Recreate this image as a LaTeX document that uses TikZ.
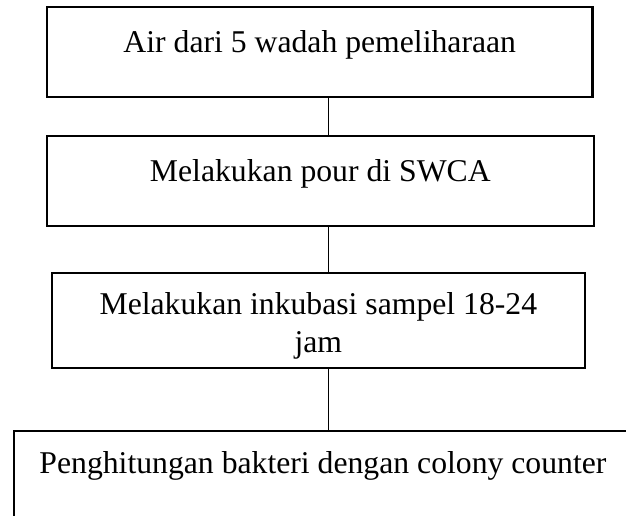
\documentclass[tikz,border=0pt]{standalone}
\usepackage{fontspec}
\setmainfont{Liberation Serif}
\usetikzlibrary{positioning}
\tikzset{
  stepbox/.style={draw, line width=1.1pt, inner sep=0pt, outer sep=0pt, align=center,
    font=\fontsize{15.85pt}{19pt}\selectfont, text height=5pt, text depth=5pt},
  joint/.style={line width=0.5pt}
}
\begin{document}
\begin{tikzpicture}[x=0.5pt,y=-0.5pt]
 \clip (0,0) rectangle (626,515);

 %Coordinates
 \coordinate (linkx) at (328.7,0);

 %Boxes
 \node (air) [stepbox, minimum width=272.75pt, minimum height=45pt] at (319.75,52.3) {Air dari 5 wadah pemeliharaan};
 \node (pour) [stepbox, minimum width=273.35pt, minimum height=45pt, below=19.35pt of air, xshift=0.3pt] {Melakukan pour di SWCA};
 \node (inkubasi) [stepbox, minimum width=266.6pt, minimum height=47.5pt, text height=32pt, text depth=0.8pt, below=23.65pt of pour, xshift=-1pt] {Melakukan inkubasi sampel 18-24\\ jam};
 \node (hitung) [stepbox, minimum width=309pt, minimum height=50pt, text height=4pt, text depth=12pt, below=31.35pt of inkubasi, xshift=2.3pt] {Penghitungan bakteri dengan colony counter};

 %Lines
 \draw[joint] (air.south -| linkx) -- (pour.north -| linkx);
 \draw[joint] (pour.south -| linkx) -- (inkubasi.north -| linkx);
 \draw[joint] (inkubasi.south -| linkx) -- (hitung.north -| linkx);

\end{tikzpicture}
\end{document}
